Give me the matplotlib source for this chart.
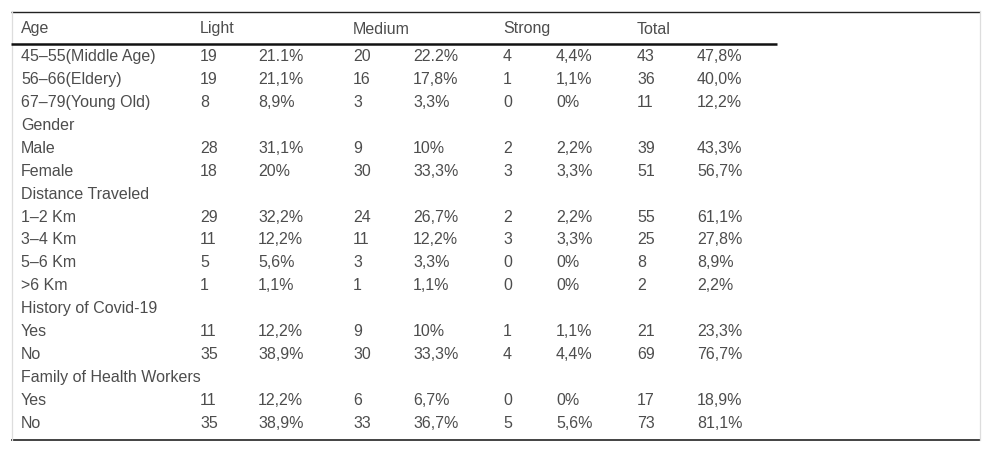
import matplotlib
matplotlib.use("Agg")
import matplotlib.pyplot as plt

header = ["Age", "Light", "", "Medium", "", "Strong", "", "Total", ""]
labels = ["45–55(Middle Age)", "56–66(Eldery)", "67–79(Young Old)", "Gender", "Male", "Female",
          "Distance Traveled", "1–2 Km", "3–4 Km", "5–6 Km", ">6 Km", "History of Covid-19",
          "Yes", "No", "Family of Health Workers", "Yes", "No"]
light_n = ["19", "19", "8", "", "28", "18", "", "29", "11", "5", "1", "", "11", "35", "", "11", "35"]
light_p = ["21.1%", "21,1%", "8,9%", "", "31,1%", "20%", "", "32,2%", "12,2%", "5,6%", "1,1%", "",
           "12,2%", "38,9%", "", "12,2%", "38,9%"]
medium_n = ["20", "16", "3", "", "9", "30", "", "24", "11", "3", "1", "", "9", "30", "", "6", "33"]
medium_p = ["22.2%", "17,8%", "3,3%", "", "10%", "33,3%", "", "26,7%", "12,2%", "3,3%", "1,1%", "",
            "10%", "33,3%", "", "6,7%", "36,7%"]
strong_n = ["4", "1", "0", "", "2", "3", "", "2", "3", "0", "0", "", "1", "4", "", "0", "5"]
strong_p = ["4,4%", "1,1%", "0%", "", "2,2%", "3,3%", "", "2,2%", "3,3%", "0%", "0%", "",
            "1,1%", "4,4%", "", "0%", "5,6%"]
total_n = ["43", "36", "11", "", "39", "51", "", "55", "25", "8", "2", "", "21", "69", "", "17", "73"]
total_p = ["47,8%", "40,0%", "12,2%", "", "43,3%", "56,7%", "", "61,1%", "27,8%", "8,9%", "2,2%", "",
           "23,3%", "76,7%", "", "18,9%", "81,1%"]

W, H = 992, 453
fig = plt.figure(figsize=(W / 100, H / 100), dpi=100)
ax = fig.add_axes([0, 0, 1, 1])
ax.set_xlim(0, W)
ax.set_ylim(H, 0)
ax.axis("off")

fam = ['Liberation Sans', 'DejaVu Sans']
txt_color = "#4d4d4d"
fs = 11.5

col_x = [21, 200, 258, 353, 413, 503, 556, 637, 697]
columns = [labels, light_n, light_p, medium_n, medium_p, strong_n, strong_p, total_n, total_p]

# borders
ax.plot([11, 980], [11.5, 11.5], color="#222222", lw=1.0, solid_capstyle="butt")
ax.plot([11, 980], [440, 440], color="#222222", lw=1.2, solid_capstyle="butt")
ax.plot([11.5, 11.5], [11, 440], color="#dddddd", lw=0.9)
ax.plot([980, 980], [11, 440], color="#dddddd", lw=0.9)
ax.plot([11, 777], [44, 44], color="#111111", lw=1.8, solid_capstyle="butt")

header_base = 33.5
for x, h in zip(col_x, header):
    ax.text(x, header_base, h, fontsize=fs, color=txt_color, va="baseline", ha="left", family=fam)

base0 = 61.2
dy = 22.9
for i in range(len(labels)):
    y = base0 + i * dy
    for x, col in zip(col_x, columns):
        if col[i]:
            ax.text(x, y, col[i], fontsize=fs, color=txt_color, va="baseline", ha="left", family=fam)

fig.savefig("out.png", dpi=100)
